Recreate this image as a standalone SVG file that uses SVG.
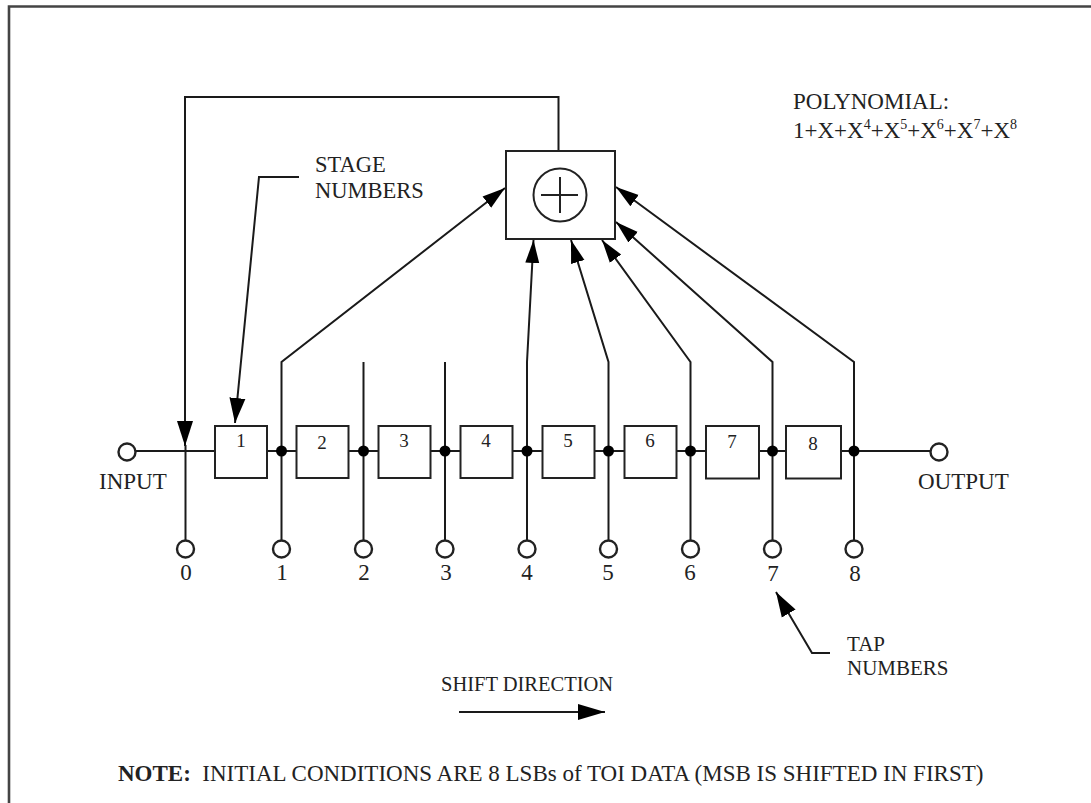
<svg xmlns="http://www.w3.org/2000/svg" width="1091" height="803" viewBox="0 0 1091 803">
<style>
.l{fill:none;stroke:#1a1a1a;stroke-width:2}
.t{fill:none;stroke:#222;stroke-width:2}
.b{fill:#fff;stroke:#222;stroke-width:2}
.o{fill:#fff;stroke:#222;stroke-width:2.4}
.d{fill:#000}
text{font-family:"Liberation Serif","Times New Roman",serif;fill:#222;font-size:23px}
.m{text-anchor:middle}
.s{font-size:19px}
.u{font-size:14px}
</style>
<defs>
<marker id="a" markerUnits="userSpaceOnUse" markerWidth="28" markerHeight="18" refX="25" refY="9" orient="auto"><path d="M0 1L25 9L0 17Z" fill="#000"/></marker>
<marker id="b" markerUnits="userSpaceOnUse" markerWidth="26" markerHeight="16" refX="23" refY="8" orient="auto"><path d="M0 1L23 8L0 15Z" fill="#000"/></marker>
<marker id="c" markerUnits="userSpaceOnUse" markerWidth="30" markerHeight="18" refX="27" refY="9" orient="auto"><path d="M0 1L27 9L0 17Z" fill="#000"/></marker>
</defs>
<rect width="1091" height="803" fill="#fff"/>
<path d="M9 803V6.500H1091" fill="none" stroke="#444" stroke-width="2.600"/>
<g id="connectors">
<path class="l" d="M558.500 151V97H185V446" marker-end="url(#a)"/>
<path class="l" d="M185.500 445V541"/>
<path class="l" d="M135 451H215M267 451H296M349 451H378M431 451H460M513 451H542M595 451H624M677 451H706M759 451H786M841 451H931"/>
<path class="l" d="M281.500 541V362L505 188" marker-end="url(#b)"/>
<path class="l" d="M363.500 541V362M445 541V362"/>
<path class="l" d="M527 541V362L533.500 240" marker-end="url(#b)"/>
<path class="l" d="M608.500 541V362L571 240" marker-end="url(#b)"/>
<path class="l" d="M690.500 541V362L602 240" marker-end="url(#b)"/>
<path class="l" d="M772.500 541V362L616 222" marker-end="url(#b)"/>
<path class="l" d="M854 541V362L616 187" marker-end="url(#b)"/>
<path class="l" d="M299 177H259L235 423" marker-end="url(#a)"/>
<path class="l" d="M830 653H812L776 592" marker-end="url(#a)"/>
<path class="l" d="M459 712H605" marker-end="url(#c)"/>
<g class="d"><circle cx="281.500" cy="451" r="5.500"/><circle cx="363.500" cy="451" r="5.500"/><circle cx="445" cy="451" r="5.500"/><circle cx="527" cy="451" r="5.500"/><circle cx="608.500" cy="451" r="5.500"/><circle cx="690.500" cy="451" r="5.500"/><circle cx="772.500" cy="451" r="5.500"/><circle cx="854" cy="451" r="5.500"/></g>
</g>
<g id="adder"><rect class="b" x="506" y="151" width="109" height="88"/><circle class="t" cx="560" cy="195" r="26.500"/><path class="t" d="M541 195H578M560 177V213"/></g>
<g id="stage-1"><rect class="b" x="215" y="426" width="52" height="52"/><text class="m s" x="241" y="447">1</text></g>
<g id="stage-2"><rect class="b" x="296.500" y="426" width="52" height="52"/><text class="m s" x="322" y="449">2</text></g>
<g id="stage-3"><rect class="b" x="378.500" y="426" width="52" height="52"/><text class="m s" x="404" y="447">3</text></g>
<g id="stage-4"><rect class="b" x="460.500" y="426" width="52" height="52"/><text class="m s" x="486" y="447">4</text></g>
<g id="stage-5"><rect class="b" x="542.500" y="426" width="52" height="52"/><text class="m s" x="568" y="447">5</text></g>
<g id="stage-6"><rect class="b" x="624.500" y="426" width="52" height="52"/><text class="m s" x="650" y="447">6</text></g>
<g id="stage-7"><rect class="b" x="706" y="426" width="53" height="52.500"/><text class="m s" x="732" y="448">7</text></g>
<g id="stage-8"><rect class="b" x="786" y="426" width="55" height="52.500"/><text class="m s" x="813" y="450">8</text></g>
<g id="input"><circle class="o" cx="127" cy="452" r="8.500"/><text x="99" y="489">INPUT</text></g>
<g id="output"><circle class="o" cx="939" cy="452" r="8.500"/><text x="918" y="489">OUTPUT</text></g>
<g id="tap-0"><circle class="o" cx="185.500" cy="549" r="8.500"/><text class="m" x="186" y="580">0</text></g>
<g id="tap-1"><circle class="o" cx="281.500" cy="549" r="8.500"/><text class="m" x="282" y="580">1</text></g>
<g id="tap-2"><circle class="o" cx="363.500" cy="549" r="8.500"/><text class="m" x="364" y="580">2</text></g>
<g id="tap-3"><circle class="o" cx="445" cy="549" r="8.500"/><text class="m" x="446" y="580">3</text></g>
<g id="tap-4"><circle class="o" cx="527" cy="549" r="8.500"/><text class="m" x="527" y="580">4</text></g>
<g id="tap-5"><circle class="o" cx="608.500" cy="549" r="8.500"/><text class="m" x="608" y="580">5</text></g>
<g id="tap-6"><circle class="o" cx="690.500" cy="549" r="8.500"/><text class="m" x="690" y="580">6</text></g>
<g id="tap-7"><circle class="o" cx="772.500" cy="549" r="8.500"/><text class="m" x="773" y="581">7</text></g>
<g id="tap-8"><circle class="o" cx="854" cy="549" r="8.500"/><text class="m" x="855" y="581">8</text></g>
<g id="labels">
<text x="315" y="172" style="font-size:22.500px">STAGE</text>
<text x="315" y="198" style="font-size:22.500px">NUMBERS</text>
<text x="847" y="651" style="font-size:21px">TAP</text>
<text x="847" y="675" style="font-size:21px">NUMBERS</text>
<text x="793" y="109">POLYNOMIAL:</text>
<text x="793" y="138">1+X+X<tspan dy="-9" class="u">4</tspan><tspan dy="9">+X</tspan><tspan dy="-9" class="u">5</tspan><tspan dy="9">+X</tspan><tspan dy="-9" class="u">6</tspan><tspan dy="9">+X</tspan><tspan dy="-9" class="u">7</tspan><tspan dy="9">+X</tspan><tspan dy="-9" class="u">8</tspan></text>
<text x="441" y="691" style="font-size:20.500px">SHIFT DIRECTION</text>
<text x="118" y="781" xml:space="preserve"><tspan style="font-weight:bold">NOTE:</tspan>  INITIAL CONDITIONS ARE 8 LSBs of TOI DATA (MSB IS SHIFTED IN FIRST)</text>
</g>
</svg>
